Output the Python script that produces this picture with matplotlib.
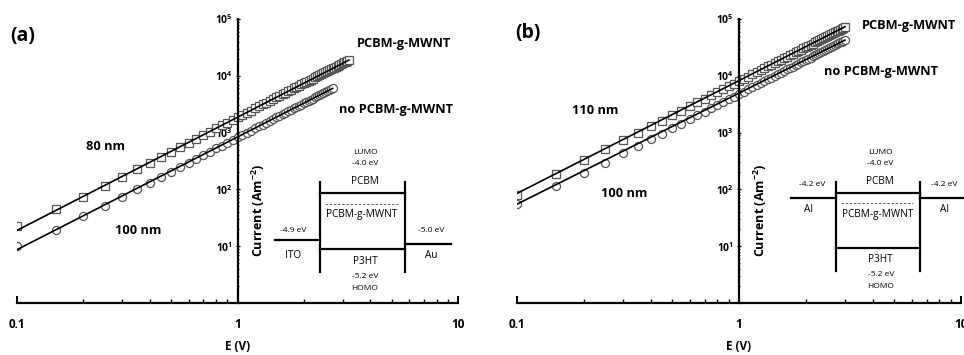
import matplotlib
matplotlib.use("Agg")
import matplotlib.pyplot as plt
from matplotlib.lines import Line2D
from matplotlib.ticker import LogLocator, NullFormatter

plt.rcParams['font.family'] = ['Open Sans', 'DejaVu Sans']
plt.rcParams['mathtext.fontset'] = 'custom'
plt.rcParams['mathtext.rm'] = 'Open Sans'
plt.rcParams['mathtext.bf'] = 'Open Sans:bold'

# ---------------- data ----------------
x_a_sq = [0.10, 0.15, 0.20, 0.25, 0.30, 0.35, 0.40, 0.45, 0.50, 0.55,
          0.60, 0.65, 0.70, 0.75, 0.80, 0.85, 0.90, 0.95, 1.00, 1.05,
          1.10, 1.15, 1.20, 1.25, 1.30, 1.35, 1.40, 1.45, 1.50, 1.55,
          1.60, 1.65, 1.70, 1.75, 1.80, 1.85, 1.90, 1.95, 2.00, 2.05,
          2.10, 2.15, 2.20, 2.25, 2.30, 2.35, 2.40, 2.45, 2.50, 2.55,
          2.60, 2.65, 2.70, 2.75, 2.80, 2.85, 2.90, 2.95, 3.00, 3.05,
          3.10, 3.15, 3.20]
y_a_sq = [23, 45, 73, 116, 166, 226, 295, 374, 462, 560,
          666, 782, 906, 1040, 1184, 1337, 1498, 1670, 1850, 2040,
          2238, 2447, 2664, 2891, 3126, 3372, 3626, 3890, 4162, 4445,
          4736, 5037, 5346, 5666, 5994, 6332, 6678, 7035, 7400, 7775,
          8158, 8552, 8954, 9366, 9786, 10217, 10656, 11105, 11562, 12030,
          12506, 12992, 13486, 13991, 14504, 15027, 15558, 16100, 16650, 17210,
          17778, 18357, 18944]

x_a_ci = [0.10, 0.15, 0.20, 0.25, 0.30, 0.35, 0.40, 0.45, 0.50, 0.55,
          0.60, 0.65, 0.70, 0.75, 0.80, 0.85, 0.90, 0.95, 1.00, 1.05,
          1.10, 1.15, 1.20, 1.25, 1.30, 1.35, 1.40, 1.45, 1.50, 1.55,
          1.60, 1.65, 1.70, 1.75, 1.80, 1.85, 1.90, 1.95, 2.00, 2.05,
          2.10, 2.15, 2.20, 2.25, 2.30, 2.35, 2.40, 2.45, 2.50, 2.55,
          2.60, 2.65, 2.70]
y_a_ci = [10, 19.5, 34, 50, 73, 100, 131, 166, 205, 248,
          295, 346, 402, 461, 525, 592, 664, 740, 820, 904,
          992, 1084, 1181, 1281, 1386, 1494, 1607, 1724, 1845, 1970,
          2099, 2232, 2370, 2511, 2657, 2806, 2960, 3118, 3280, 3446,
          3616, 3790, 3969, 4151, 4338, 4528, 4723, 4922, 5125, 5332,
          5543, 5758, 5978]

x_b = [0.10, 0.15, 0.20, 0.25, 0.30, 0.35, 0.40, 0.45, 0.50, 0.55,
       0.60, 0.65, 0.70, 0.75, 0.80, 0.85, 0.90, 0.95, 1.00, 1.05,
       1.10, 1.15, 1.20, 1.25, 1.30, 1.35, 1.40, 1.45, 1.50, 1.55,
       1.60, 1.65, 1.70, 1.75, 1.80, 1.85, 1.90, 1.95, 2.00, 2.05,
       2.10, 2.15, 2.20, 2.25, 2.30, 2.35, 2.40, 2.45, 2.50, 2.55,
       2.60, 2.65, 2.70, 2.75, 2.80, 2.85, 2.90, 2.95, 3.00]
y_b_sq = [81, 186, 330, 512, 740, 995, 1290, 1630, 2010, 2430,
          2890, 3390, 3930, 4510, 5130, 5790, 6490, 7230, 8010, 8830,
          9690, 10590, 11530, 12500, 13520, 14580, 15680, 16820, 18000, 19220,
          20480, 21780, 23120, 24500, 25920, 27380, 28880, 30420, 32000, 33620,
          35280, 36980, 38720, 40500, 42320, 44180, 46080, 48020, 50000, 52020,
          54080, 56180, 58320, 60500, 62720, 64980, 67280, 69620, 72000]
y_b_ci = [56, 116, 196, 293, 434, 582, 760, 962, 1188, 1437,
          1710, 2007, 2328, 2672, 3040, 3432, 3848, 4287, 4750, 5237,
          5748, 6282, 6840, 7422, 8028, 8657, 9310, 9987, 10688, 11412,
          12160, 12932, 13728, 14547, 15390, 16257, 17148, 18062, 19000, 19962,
          20948, 21957, 22990, 24047, 25128, 26232, 27360, 28512, 29688, 30887,
          32110, 33357, 34628, 35922, 37240, 38582, 39948, 41337, 42750]

# straight-line fits (end points)
fit_a_sq_x, fit_a_sq_y = [0.10, 3.20], [19, 18900]
fit_a_ci_x, fit_a_ci_y = [0.10, 2.70], [8.7, 6000]
fit_b_sq_x, fit_b_sq_y = [0.10, 3.00], [85, 73000]
fit_b_ci_x, fit_b_ci_y = [0.10, 3.00], [55, 42500]

xticks = [0.1, 1, 10]
xtick_labels = ['0.1', '1', '10']
yticks = [1e1, 1e2, 1e3, 1e4, 1e5]
ytick_labels = [r'$\mathbf{10^{1}}$', r'$\mathbf{10^{2}}$', r'$\mathbf{10^{3}}$',
                r'$\mathbf{10^{4}}$', r'$\mathbf{10^{5}}$']

panel_labels = ['(a)', '(b)']
thick_labels_a = ['80 nm', '100 nm']
thick_labels_b = ['110 nm', '100 nm']
series_labels = ['PCBM-g-MWNT', 'no PCBM-g-MWNT']

# ---------------- figure ----------------
W, H = 964, 355
fig = plt.figure(figsize=(W / 100, H / 100), dpi=100)


def fx(px):
    return px / W


def fy(py):
    return 1 - py / H


def make_axes(left_px, right_px):
    ax = fig.add_axes([fx(left_px), fy(303), fx(right_px - left_px), (303 - 19) / H])
    ax.set_xscale('log')
    ax.set_yscale('log')
    ax.set_xlim(0.1, 10)
    ax.set_ylim(1, 1e5)
    ax.patch.set_alpha(0)
    for s in ['top', 'right']:
        ax.spines[s].set_visible(False)
    ax.spines['left'].set_position(('data', 1))
    ax.spines['left'].set_linewidth(1.6)
    ax.spines['bottom'].set_linewidth(1.6)
    ax.set_xticks(xticks)
    ax.set_xticklabels(xtick_labels, fontweight='bold', fontsize=8.5)
    ax.xaxis.set_minor_locator(LogLocator(base=10, subs=range(2, 10)))
    ax.xaxis.set_minor_formatter(NullFormatter())
    ax.tick_params(axis='x', which='major', direction='in', length=5, width=1.4, pad=11)
    ax.tick_params(axis='x', which='minor', direction='in', length=3, width=1.0)
    ax.set_yticks(yticks)
    ax.set_yticklabels(ytick_labels, fontsize=7.5)
    ax.yaxis.set_minor_locator(LogLocator(base=10, subs=range(2, 10)))
    ax.yaxis.set_minor_formatter(NullFormatter())
    ax.tick_params(axis='y', which='major', direction='inout', length=3, width=1.0, pad=2)
    ax.tick_params(axis='y', which='minor', direction='inout', length=2, width=0.8)
    ax.set_xlabel('E (V)', fontweight='bold', fontsize=8.5, labelpad=6)
    return ax


mk = dict(linestyle='none', markerfacecolor='white', markeredgecolor='#555555',
          markeredgewidth=0.9, markersize=5.8)

axa = make_axes(17, 458)
axa.plot(x_a_sq, y_a_sq, marker='s', **mk)
axa.plot(x_a_ci, y_a_ci, marker='o', **mk)
axa.plot(fit_a_sq_x, fit_a_sq_y, color='black', lw=1.2)
axa.plot(fit_a_ci_x, fit_a_ci_y, color='black', lw=1.2)

axb = make_axes(517, 961)
axb.plot(x_b, y_b_sq, marker='s', **mk)
axb.plot(x_b, y_b_ci, marker='o', **mk)
axb.plot(fit_b_sq_x, fit_b_sq_y, color='black', lw=1.2)
axb.plot(fit_b_ci_x, fit_b_ci_y, color='black', lw=1.2)


def t(px, py, s, size=6.5, weight='normal', ha='center', va='center', **kw):
    fig.text(fx(px), fy(py), s, fontsize=size, fontweight=weight, ha=ha, va=va, **kw)


def ln(x0, x1, y0, y1, lw=1.6, **kw):
    fig.add_artist(Line2D([fx(x0), fx(x1)], [fy(y0), fy(y1)], color='black', lw=lw,
                          transform=fig.transFigure, **kw))


# panel labels & annotations
t(10, 36, panel_labels[0], size=14, weight='bold', ha='left')
t(515, 33, panel_labels[1], size=14, weight='bold', ha='left')

t(357, 44, series_labels[0], size=9.2, weight='bold', ha='left')
t(339, 109, series_labels[1], size=9.2, weight='bold', ha='left')
t(86, 146, thick_labels_a[0], size=9.2, weight='bold', ha='left')
t(115, 230, thick_labels_a[1], size=9.2, weight='bold', ha='left')

t(862, 26, series_labels[0], size=9.2, weight='bold', ha='left')
t(824, 72, series_labels[1], size=9.2, weight='bold', ha='left')
t(572, 110, thick_labels_b[0], size=9.2, weight='bold', ha='left')
t(601, 193, thick_labels_b[1], size=9.2, weight='bold', ha='left')

# y labels
ylab = r'Current (Am$^{\mathbf{-2}}$)'
t(258, 210, ylab, size=9, weight='bold', rotation=90)
t(760, 210, ylab, size=9, weight='bold', rotation=90)

# ---- inset (a): energy diagram ----
ln(320, 320, 182, 272)
ln(405, 405, 182, 272)
ln(320, 405, 193, 193)
ln(325, 398, 204, 204, lw=0.6, linestyle=(0, (3, 2)), alpha=0.7)
ln(320, 405, 249, 249)
ln(275, 320, 240, 240)
ln(405, 451, 244, 244)
t(365, 152, 'LUMO', size=6)
t(365, 163, '-4.0 eV', size=6)
t(365, 182, 'PCBM', size=7.2)
t(362, 215, 'PCBM-g-MWNT', size=7.2)
t(365, 261, 'P3HT', size=7.2)
t(365, 277, '-5.2 eV', size=6)
t(365, 289, 'HOMO', size=6)
t(293, 231, '-4.9 eV', size=6)
t(293, 255, 'ITO', size=7.2)
t(431, 231, '-5.0 eV', size=6)
t(431, 255, 'Au', size=7.2)

# ---- inset (b): energy diagram ----
ln(836, 836, 182, 271)
ln(920, 920, 182, 271)
ln(836, 920, 193, 193)
ln(841, 913, 203, 203, lw=0.6, linestyle=(0, (3, 2)), alpha=0.7)
ln(836, 920, 248, 248)
ln(791, 836, 198, 198)
ln(920, 964, 198, 198)
t(880, 152, 'LUMO', size=6)
t(880, 163, '-4.0 eV', size=6)
t(880, 181, 'PCBM', size=7.2)
t(878, 215, 'PCBM-g-MWNT', size=7.2)
t(880, 259, 'P3HT', size=7.2)
t(881, 275, '-5.2 eV', size=6)
t(881, 287, 'HOMO', size=6)
t(812, 185, '-4.2 eV', size=6)
t(808, 209, 'Al', size=7.2)
t(944, 185, '-4.2 eV', size=6)
t(944, 209, 'Al', size=7.2)

fig.savefig('out.png', dpi=100)
